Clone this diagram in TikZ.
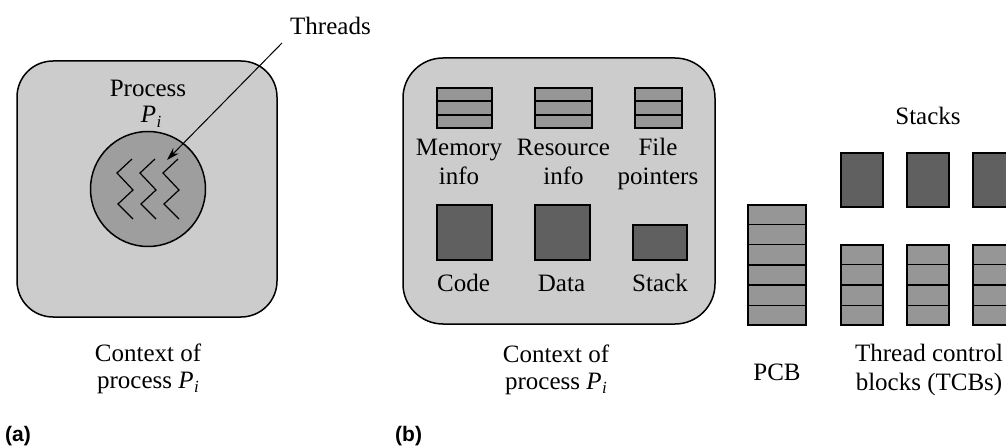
\documentclass[tikz,border=0pt]{standalone}
\usepackage{fontspec}
\setmainfont{Liberation Serif}
\setsansfont{Liberation Sans}
\usetikzlibrary{arrows.meta,calc}

\definecolor{ctxgray}{RGB}{204,204,204}
\definecolor{circgray}{RGB}{158,158,158}
\definecolor{rowgray}{RGB}{150,150,150}
\definecolor{blkgray}{RGB}{96,96,96}

% italic P with a small italic subscript i
\newcommand{\procsym}{\textit{P\kern0.5pt\raisebox{-0.35ex}{\fontsize{17}{17}\selectfont i}}}

% horizontal separators of a block of n equal rows
\newcommand{\rowsplit}[2]{%
  \foreach \k in {1,...,\numexpr#2-1\relax}
    \draw[rowline] ($(#1.north west)!\k/#2!(#1.south west)$) -- ($(#1.north east)!\k/#2!(#1.south east)$);}

\begin{document}
\begin{tikzpicture}[x=1pt,y=-1pt,
  lbl/.style={font=\fontsize{25}{27}\selectfont, align=center, inner sep=0pt, anchor=base},
  tag/.style={font=\sffamily\bfseries\fontsize{21}{24}\selectfont, inner sep=0pt, anchor=base west},
  ctxbox/.style={draw, line width=1.5pt, fill=ctxgray},
  rowblock/.style={draw, line width=1.5pt, fill=rowgray, inner sep=0pt},
  darkblock/.style={draw, line width=1.5pt, fill=blkgray, inner sep=0pt},
  rowline/.style={line width=1.5pt},
  thread/.style={line width=1.2pt, line join=miter},
  pointer/.style={line width=1pt, -{Stealth[length=13pt,width=8pt]}}]
\useasboundingbox (0,0) rectangle (1006,446);
\clip (0,0) rectangle (1006,446);

% ---------- (a) process with threads ----------
\draw[ctxbox, rounded corners=36pt] (17,61) rectangle (277,317);
\node[lbl] (procname) at (148,97) {Process};
\node[lbl] (procid) at (151,123) {\procsym};
\node[circle, draw, line width=1.5pt, fill=circgray, minimum size=115pt, inner sep=0pt] (core) at (148,189) {};
\foreach \dx in {0,23,46}
  \draw[thread] (132+\dx,159) -- (117+\dx,173) -- (133+\dx,190) -- (118+\dx,204) -- (133+\dx,219);
\node[lbl, anchor=base west] (thrlbl) at (290,35) {Threads};
\coordinate (thrfrom) at (282,43);
\coordinate (thrto) at (167,160);
\draw[pointer] (thrfrom) -- (thrto);
% multi-line labels are placed by the baseline of their last line
\node[lbl] (ctxa) at (148,388) {Context of\\process \procsym};
\node[tag] (taga) at (5,441) {(a)};

% ---------- (b) process context, PCB and TCBs ----------
\draw[ctxbox, rounded corners=40pt] (403,58) rectangle (715,324);

\node[rowblock, minimum width=55pt, minimum height=40pt] (meminfo) at (464.5,108) {};
\node[rowblock, minimum width=57pt, minimum height=40pt] (resinfo) at (563.5,108) {};
\node[rowblock, minimum width=47pt, minimum height=40pt] (fileptr) at (658.5,108) {};
\rowsplit{meminfo}{3}
\rowsplit{resinfo}{3}
\rowsplit{fileptr}{3}
\node[lbl, font=\fontsize{25}{29}\selectfont] (memlbl) at (459,185) {Memory\\info};
\node[lbl, font=\fontsize{25}{29}\selectfont] (reslbl) at (563.5,185) {Resource\\info};
\node[lbl, font=\fontsize{25}{29}\selectfont] (filelbl) at (658,185) {File\\pointers};

\node[darkblock, minimum width=55pt, minimum height=55pt] (code) at (464.5,232.5) {};
\node[darkblock, minimum width=55pt, minimum height=55pt] (data) at (562.5,232.5) {};
\node[darkblock, minimum width=54pt, minimum height=35pt] (stack) at (660,242.5) {};
\node[lbl] (codelbl) at (463.5,291) {Code};
\node[lbl] (datalbl) at (561.5,291) {Data};
\node[lbl] (stacklbl) at (660,291) {Stack};

\node[lbl] (ctxb) at (556,389) {Context of\\process \procsym};

\node[rowblock, minimum width=58pt, minimum height=120pt] (pcb) at (777,265) {};
\rowsplit{pcb}{6}
\node[lbl] (pcblbl) at (777,380) {PCB};

\node[lbl] (stkslbl) at (928,125) {Stacks};
\foreach \i/\x in {1/862,2/928,3/994}{
  \node[darkblock, minimum width=42pt, minimum height=54pt] (stk\i) at (\x,180) {};
  \node[rowblock, minimum width=42pt, minimum height=80pt] (tcb\i) at (\x,285) {};
  \rowsplit{tcb\i}{4}
}
\node[lbl, font=\fontsize{25}{29}\selectfont] (tcblbl) at (929,390) {Thread control\\blocks (TCBs)};
\node[tag] (tagb) at (395,441) {(b)};
\end{tikzpicture}
\end{document}
